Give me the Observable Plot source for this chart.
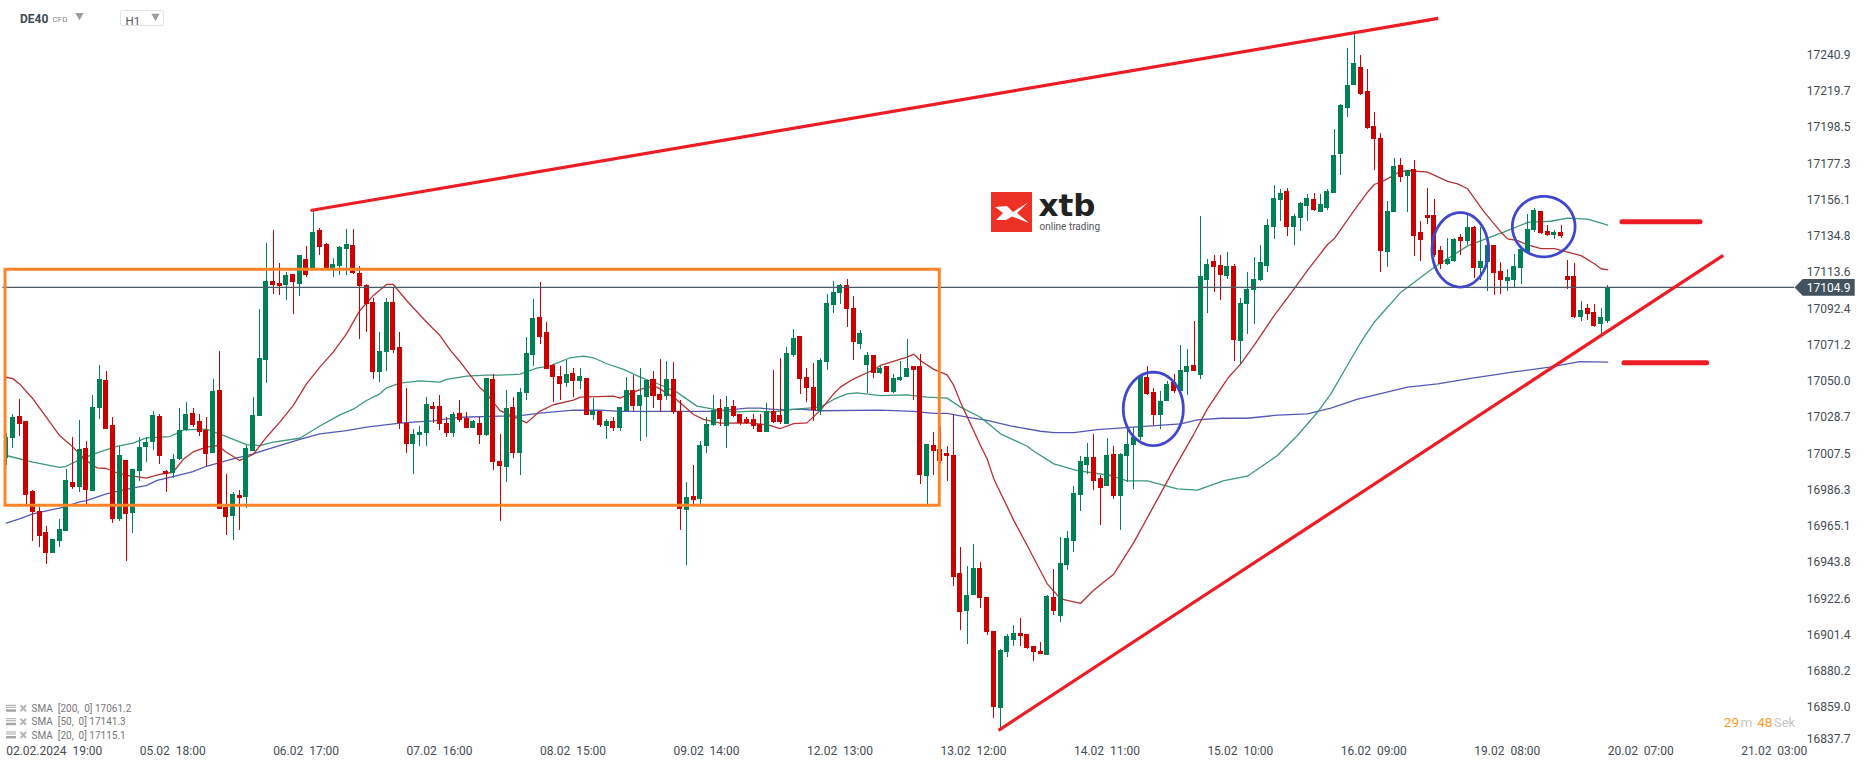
<!DOCTYPE html>
<html><head><meta charset="utf-8">
<script src="https://cdn.jsdelivr.net/npm/d3@7"></script>
<script src="https://cdn.jsdelivr.net/npm/@observablehq/plot@0.6"></script>
<style>html,body{margin:0;padding:0;background:#fff}svg{display:block}</style>
</head><body><div id="chart"></div>
<script>
const opens=[17004.5,17016.4,17029.3,17026.4,16985.4,16973.7,16961.4,16949.1,16956.1,16962,
16990.7,16987.8,17010.6,16985.4,17034,17050.4,17024,16969,17003.6,16972.5,
16997.1,17011.2,17014.1,17029.3,16997.1,16995.9,17004.1,17021.1,17031.1,17026.4,
17021.1,17007.7,17044.5,16976,16970.8,16983.1,16981.9,17008.8,17029.3,17062.1,
17108.3,17107.2,17106,17112.4,17106.6,17121.2,17115.9,17138.2,17130,17115.9,
17117.1,17127.1,17129.4,17113,17106,17096,17055.1,17066.8,17096,17069.7,
17025.2,17012.9,17018.2,17019.4,17035.2,17035.2,17025.2,17019.4,17031.1,17028.1,
17022.3,17025.2,17018.2,17051,17003,16999.5,17034.6,17007.7,17042.8,17065,
17087.3,17078.5,17059.2,17052.8,17048.7,17054.5,17049.8,17051.6,17029.9,17032.3,
17023.5,17026.4,17022.3,17032.3,17044.6,17035.2,17040.5,17051,17042.2,17041,
17051,17032.3,16974.3,16982.5,16980.8,17011.8,17024.1,17034,17023.5,17035.2,
17030.5,17027.6,17027.6,17024.7,17020,17032.3,17029.9,17024.7,17065,17076.2,
17052.2,17046.3,17032.3,17060.9,17094.3,17101.3,17106,17092.6,17071.5,17059.2,
17065,17054.5,17058.6,17043.4,17050.4,17052.2,17058.6,17058.6,16994.2,17012.4,
17010,17007.7,17006.5,16937.4,16915.2,16924.5,16940.3,16923.4,16903.5,16858.4,
16891.2,16898.2,16902.3,16901.7,16894.7,16891.8,16889.4,16923.4,16912.2,16942.1,
16956.1,16983.1,17000.6,17005.3,16993,16988.3,17007.1,16982.5,17005.9,17012.3,
17017,17052.1,17043.4,17029.9,17038.1,17049.2,17043.9,17055.1,17059.2,17053.4,
17108.9,17120,17117.7,17111.3,17117.1,17073.2,17094.9,17103.1,17108.9,17117.1,
17139.9,17155.7,17161,17139.9,17145.2,17152.2,17156.3,17148.7,17151,17159.8,
17182.7,17209.6,17223.1,17233.6,17219.5,17199,17192,17125.3,17148.7,17176.2,
17169.8,17173.9,17137,17147,17147,17126.5,17118.3,17120,17134.1,17131.7,
17139.9,17115.9,17119.5,17129.4,17114.2,17108.3,17108.9,17115.9,17125.3,17138.2,
17149.3,17137.6,17135.2,17137,17111.3,17111.3,17087.3,17092.5,17090.2,17083.2,
17084.9];
const highs=[17019.2,17030.5,17039.1,17026.4,16986,16976.2,16964.9,16957.3,16969,16998.1,
17016.8,17027,17014.7,17041.6,17059.2,17055.6,17028.7,17011.8,17003.6,16998.3,
17017,17016.8,17032.2,17030.5,16997.7,17007.1,17034,17037.5,17034,17030.5,
17028.7,17051,17067.4,16995.4,16984.8,16986,17012.3,17040.4,17091.9,17130.6,
17138.2,17118.9,17113.6,17112.4,17123.7,17128.8,17149.9,17139.3,17130.6,17121.8,
17128.8,17138.8,17138.8,17117.1,17106.6,17098.2,17078.5,17098.4,17104,17078.5,
17045.7,17021.7,17023.5,17040.4,17037.5,17041.6,17028.7,17031.7,17038.7,17031.7,
17027,17028.7,17051.6,17053.9,17018.8,17044.6,17040.5,17045.7,17075.6,17097.8,
17107.8,17084.4,17059.8,17058.6,17062.1,17057.4,17057.4,17051.6,17039.9,17032.3,
17027.6,17028.8,17034.6,17052.2,17053.3,17057.4,17050.4,17055.7,17062.7,17061.5,
17060.9,17038.7,16990.7,17000.7,17014.7,17028.8,17041.6,17039.3,17041,17038.7,
17030.5,17028.8,17030.5,17030.5,17036.9,17056.3,17063.3,17069.7,17080.3,17076.2,
17057.4,17060.4,17063.3,17100.7,17108.4,17106.6,17109.5,17099.6,17079.7,17066.8,
17065,17059.2,17058.6,17053.9,17061.5,17074.4,17058.6,17065.6,17012.9,17020,
17023.5,17011.8,17029.9,16952.6,16941.5,16954.4,16943.8,16923.4,16903.5,16892.9,
16901.7,16907,16911.1,16901.7,16894.7,16897,16924.5,16939.8,16958.5,16962,
16988.3,17005.9,17013.5,17018.8,16994.8,17016.4,17011.7,17007.6,17023.4,17022.9,
17053.3,17058.6,17045.7,17043.9,17049.8,17053.9,17070.9,17068.5,17084.9,17146.4,
17121.2,17123.5,17123.5,17125.3,17118.3,17098.4,17113.6,17122.4,17129.4,17144.6,
17164.5,17162.2,17162.8,17147.5,17154.6,17159.3,17159.8,17159.3,17162.2,17197.3,
17211.9,17244.7,17252.9,17240.6,17232.4,17207.3,17195,17155.2,17180.3,17180.3,
17173.3,17179.2,17143.5,17162.8,17156.3,17128.8,17133.5,17133.5,17135.8,17147,
17140.5,17139.9,17129.4,17129.4,17119.5,17115.4,17124.1,17127,17147.5,17151,
17149.3,17141.1,17138.2,17141.1,17120.6,17118.9,17096.6,17094.9,17094.9,17092.5,
17106];
const lows=[17000.6,17010.8,17017.6,16977.2,16956.3,16952.8,16942.9,16949.1,16952.8,16962,
16986.8,16985,16977.8,16985.4,17027.8,17021.7,16966.9,16968,16944.6,16961,
16991.3,17002.4,17009.4,17001.2,16984.8,16993,17003.6,17020.5,17022.9,17017.6,
17000,17007.7,16974.9,16959.7,16956.7,16962.6,16975.5,17008.8,17029.3,17048.6,
17100.7,17100.1,17097.2,17089,17099.5,17110.7,17115.9,17123.5,17115.3,17110.7,
17111.8,17111.8,17112.4,17074.4,17078.5,17051,17049.2,17055.6,17066.2,17021.7,
17007.7,16995.4,17011.8,17011.8,17025.2,17021.1,17017,17017,17025.8,17022.3,
17022.3,17012.9,17017.6,16997.7,16968,16990.7,17004.8,16994.8,17038.7,17058.6,
17071.5,17056.9,17037.5,17038.7,17046.3,17040.5,17045.1,17029.9,17027,17022.9,
17015.9,17020.6,17020.6,17032.3,17032.3,17014.7,17017.1,17034,17031.7,17038.7,
17030.5,16962.6,16942.1,16977.2,16977.2,17007.7,17023.5,17023.5,17010.6,17028.8,
17024.1,17024.7,17021.7,17020,17020,17025.2,17024.7,17024.7,17063.9,17042.2,
17037.5,17026.4,17029.9,17056.3,17089.6,17094.9,17081.4,17062.1,17068.6,17042.6,
17051.6,17053.9,17043.4,17042.8,17049.8,17052.2,17038.7,16989.5,16977.8,16994.8,
17001.2,16991.3,16929.8,16904.1,16895.9,16924.5,16916.9,16900.9,16852.5,16845.5,
16888.2,16894.7,16894.7,16892.9,16885.9,16890,16889.4,16912.8,16908.7,16939.2,
16949.7,16973.7,16995.4,16986,16965.5,16988.3,16980.7,16962.6,16990.7,16986.6,
17015.3,17041.6,17024,17021.7,17038.1,17042.8,17043.9,17041.6,17055.6,17051,
17089.6,17101.9,17097.2,17109.5,17061.5,17059.2,17077.3,17083.2,17108.3,17113.6,
17132.9,17143.5,17134.7,17129.4,17137.6,17143.5,17149.3,17148.7,17149.9,17159.8,
17170.4,17204.3,17223.1,17217.2,17197.3,17173.3,17113.6,17116.5,17148.7,17166.3,
17148.7,17123,17120,17141.7,17122.2,17115.4,17117.7,17119.5,17123.6,17129.4,
17110.1,17108.9,17102.5,17100.1,17100.7,17102.5,17104.8,17106.6,17124.1,17137,
17135.8,17134.7,17132.9,17133.5,17103.6,17086.7,17084.9,17085.5,17081.4,17077.3,
17083.7];
const closes=[17017.2,17028.7,17024.6,16983.3,16973.1,16959.1,16949.1,16957.3,16963.2,16991.9,
16987.8,17010,16986,17034.6,17051,17021.7,16969,17006.5,16972,16998.3,
17011.2,17014.1,17029.9,17005.9,16995.4,17004.1,17021.1,17030.5,17024,17019.9,
17007.1,17043.9,16974.9,16970.2,16983.7,16981.3,17010.6,17029.9,17063.3,17108.3,
17106,17105.4,17111.8,17107.7,17123.5,17111.8,17137,17128.2,17115.9,17118.3,
17128.2,17130,17113,17105.2,17094.9,17055.1,17067.4,17096,17067.9,17025.2,
17012.9,17018.8,17019.9,17036.3,17033.4,17024.6,17019.4,17030.5,17027,17022.3,
17026.4,17018.2,17051.6,17002.4,17000.1,17034,17007.7,17043.4,17066.2,17086.7,
17075.6,17056.9,17052.2,17048.1,17053.9,17049.8,17052.8,17029.9,17032.3,17024.1,
17026.4,17022.3,17034.6,17044.6,17035.2,17041.6,17050.4,17041,17038.7,17051,
17031.7,16974.9,16981.9,16980.2,17012.4,17024.7,17032.9,17027.6,17034.6,17029.3,
17025.2,17025.2,17023.5,17020,17032.3,17025.8,17025.8,17066.2,17075,17051,
17045.7,17032.9,17062.1,17095.5,17101.9,17106,17092,17072.7,17077.9,17065,
17054.5,17057.4,17043.4,17051.6,17052.2,17057.4,17056.3,16994.8,17012.9,17008.9,
17003,17005.9,16935,16914.6,16924.5,16940.3,16922.8,16902.9,16859,16892.3,
16900.5,16902.3,16900.5,16893.5,16891.2,16890,16923.9,16915.2,16943.3,16957.9,
16984.2,17003,17005.3,16991.3,16987.2,17006.5,16982.5,17007.1,17012.9,17017,
17052.7,17042.2,17029.9,17038.1,17048,17043.9,17056.2,17058.6,17055.6,17111.3,
17118.3,17116.5,17111.8,17117.1,17073.8,17095.5,17103.6,17109.5,17119.5,17141.1,
17156.9,17159.8,17139.9,17146.4,17154,17156.9,17149.9,17153.4,17161,17182.1,
17211.3,17223.1,17235.9,17217.8,17197.9,17191.4,17125.9,17149.3,17175.6,17169.2,
17173.3,17134.7,17132.3,17145.2,17123.4,17118.3,17121.2,17132.9,17131.7,17139.9,
17115.9,17120,17129.4,17113,17108.9,17110.7,17117.1,17127,17138.8,17149.9,
17136.4,17135.2,17137,17134.7,17108.9,17087.3,17091.4,17089,17082,17087.3,
17104.9];

const sma20Bars=[0,1,2,4,6,8,10,12,13.6,15,16.4,18,19,21,23,25,26.6,28,30,31.6,33,35,37,39,41,43,45,47,49,51,53,55,57,58,60,63,65,66.6,68,71,72,74,76,78,80,82,85,86,91,92,94,96,97.5,100,103,104.5,107,111,114,116,118,120,122,124,125,127,130,131,135,136,137,139,141,142,143,144.5,146,147,148,151,153,156,158,161,163,166,169,172,175,178,180,183,185,187,190,193,195,198,199,202,204,205,206.5,208.7,210,213,216,217.5,219,221.5,224,225,226.5,228,230,232,234,236,238,239,240];
const sma20Vals=[17052.3,17051.5,17048.4,17039.7,17028.9,17018.2,17011.4,17003.6,16999.3,16998.9,16996.7,16994.8,16994.4,16993.2,16995.4,16996.7,17004.5,17008.6,17011.4,17012.3,17008.4,17003.6,17007.1,17017.2,17026,17035.7,17048.4,17058.2,17067,17077.7,17091.4,17100.1,17106.6,17106.6,17097.2,17084.5,17076.7,17067.9,17061.5,17046.1,17042.6,17032.8,17029.3,17025.6,17032.5,17036.2,17038.9,17040.7,17041.2,17040.1,17043.6,17046.5,17046.5,17040.7,17030.5,17027.6,17025.4,17025.6,17024.5,17022.3,17025.2,17025.6,17032.9,17042.6,17046.5,17051.4,17056.7,17059.2,17064.1,17065.8,17062.1,17056.9,17053.7,17047.5,17037.7,17025,17012.4,17004.5,16992.8,16968.4,16953.8,16931.4,16922.6,16920,16927.8,16937.2,16955.8,16977.2,16998.7,17019.2,17033.8,17051.4,17060.1,17070.9,17088.4,17104,17114.8,17130,17133.3,17149.9,17160.6,17165.1,17167.4,17172.3,17173.3,17172.3,17166.9,17165.5,17162.6,17148.9,17137.2,17133.3,17132.3,17129.8,17127.6,17127.6,17125.5,17123.5,17118.7,17115.8,17115.1];

const sma50Bars=[0,4,8,9,11,13.6,16.6,19,21,24.6,26.6,30,33,36,38,40,44,47,50,52,54,56,57,59,62,65,66,69,72,74,77,79.5,81.5,84.5,86.5,88,90,92.5,95,98,100.5,103.5,106,109,112,115,117,122,124,126,127.5,131,135,138,141,143,146,149,153,154,157,160.5,165.5,168,171,175.5,178.5,182.5,186,190.5,193.5,196.5,198.5,201.4,203,205,209,210,214,219,222,224.4,228,231.4,234,237,240];
const sma50Vals=[17006.5,17002.6,16999.5,17000.2,17004.1,17008,17011.8,17013.7,17016.8,17017.6,17021.5,17021.9,17017.6,17012.9,17012.3,17014.3,17016.6,17023.8,17030.3,17033.6,17038.7,17042.6,17046.1,17048.8,17050.2,17049.4,17051,17052.9,17053.5,17053.5,17054.1,17057.6,17059,17063.7,17064.7,17063.7,17060.2,17056.9,17052.4,17047.9,17043.6,17035.4,17033.6,17031.9,17032.5,17031.9,17033.2,17034.8,17039.3,17042.6,17043.2,17041.6,17042,17040.7,17040.1,17034.8,17028.9,17019.2,17011.9,17009,17001.6,16997.7,16994.8,16991.6,16991.6,16987,16986.2,16991.8,16994.4,17006.5,17018.2,17031.8,17042.6,17062.1,17072.8,17084.5,17102.1,17105,17116.7,17129.2,17133.7,17137.2,17142.9,17143.6,17145.4,17144.8,17141.3];

const sma200Bars=[0,2,4,8.5,11,12,15,19,21,22.6,25,28,30,34,37,39,44,47,51,54,59,61,64,68,74,76.5,80,85,89,92,106,111,113,116,119,122,131,136,139,141,144,146,147,150.5,155,157,160,163.5,170,176,178.5,182,186,190.5,195,198.5,202.4,210,214.5,219,225.7,231.3,235.8,240];
const sma200Vals=[16966.9,16969.4,16972.3,16976.2,16979.4,16980.1,16984,16987.6,16988.9,16991.9,16994.2,16997.1,17000.2,17004.5,17007.5,17010,17016,17019.2,17021.1,17023.1,17025.4,17026,17026.8,17028.9,17029.5,17029.5,17031.3,17033,17033,17032.3,17032.3,17034.2,17034.2,17033.2,17033.6,17032.7,17033,17032.3,17031.1,17031.1,17028.9,17027.6,17027,17023.8,17020.7,17019.9,17019.9,17021.7,17023.4,17025,17027.4,17028.3,17028.3,17030.1,17030.9,17034.2,17039.3,17046.5,17048.4,17051.4,17055.3,17058.2,17061.5,17061.2];

const priceTicks=[17240.9,17219.7,17198.5,17177.3,17156.1,17134.8,17113.6,17092.4,17071.2,17050.0,17028.7,17007.5,16986.3,16965.1,16943.8,16922.6,16901.4,16880.2,16859.0];
const bottomPriceTick=[16837.7];
const timeTickBars=[0,20,40,60,80,100,120,140,160,180,200,220,240,260];
const timeTickLabels=["02.02.2024  19:00","05.02  18:00","06.02  17:00","07.02  16:00","08.02  15:00","09.02  14:00","12.02  13:00","13.02  12:00","14.02  11:00","15.02  10:00","16.02  09:00","19.02  08:00","20.02  07:00","21.02  03:00"].map(s=>s.replace(/ /g,"\u00a0"));
const lastPrice=17104.9;

const rangeBox=[{x1:-0.1,x2:139.9,y1:16977.1,y2:17115.2}];
const trendLines=[
 {x1:45.6,y1:17149.9,x2:214.6,y2:17262.3},
 {x1:148.7,y1:16845.6,x2:257.3,y2:17123.6}
];
const levelBars=[
 {x1:242.2,x2:253.9,y:17143.3},
 {x1:242.5,x2:254.9,y:17060.8}
];
const circles=[
 {cx:171.9,cy:17033.8,rx:4.5,ry:21.5},
 {cx:217.9,cy:17126.9,rx:4.24,ry:21.8},
 {cx:230.4,cy:17140.5,rx:4.7,ry:17.7}
];
const legendRows=["SMA\u00a0\u00a0[200,\u00a0\u00a00]\u00a017061.2","SMA\u00a0\u00a0[50,\u00a0\u00a00]\u00a017141.3","SMA\u00a0\u00a0[20,\u00a0\u00a00]\u00a017115.1"];

const RED="#cc0000",GREEN="#008055",INK="#454c52";
const candles=opens.map((o,i)=>({i,o,h:highs[i],l:lows[i],c:closes[i],up:closes[i]>=o}));
const toLine=(bars,vals)=>bars.map((b,k)=>({b,v:vals[k]}));
const ellipses=circles.flatMap((c,k)=>d3.range(0,361,5).map(a=>({k,b:c.cx+c.rx*Math.cos(a*Math.PI/180),v:c.cy+c.ry*Math.sin(a*Math.PI/180)})));
const tagPoly=[{b:268,v:lastPrice},{b:269.2,v:lastPrice+4.9},{b:277,v:lastPrice+4.9},{b:277,v:lastPrice-4.9},{b:269.2,v:lastPrice-4.9},{b:268,v:lastPrice}];

function chromeText(t,dx,dy,o={}){
  return Plot.text([t],{text:d=>d,frameAnchor:"top-left",textAnchor:"start",lineAnchor:"middle",dx,dy,fontSize:12,fill:INK,...o});
}
function tri(dx,dy){
  return Plot.dot([0],{frameAnchor:"top-left",dx,dy,symbol:"triangle",rotate:180,r:3.1,fill:"#9a9ea2",stroke:"none"});
}
function chromeShapes(){
  const g=d3.create("svg:g");
  g.append("rect").attr("x",120.5).attr("y",10.5).attr("width",43).attr("height",15).attr("rx",1.5).attr("fill","none").attr("stroke","#e2e4e6");
  g.append("rect").attr("x",991).attr("y",192).attr("width",41).attr("height",40).attr("fill","#ed3124");
  g.append("path").attr("d","M995,207 L1007,206 L1013,212 L1028,202.5 L1017,213 L1029,223 L1012,216.5 L1006,220 L996,220 L1003,213 Z").attr("fill","#fff");
  [708.3,721.7,735].forEach(y=>{
    [-3,-1,1.5].forEach((d,j)=>g.append("rect").attr("x",6).attr("y",y+d-0.5).attr("width",10).attr("height",j==2?2.5:1).attr("fill","#a3a7aa"));
    g.append("path").attr("d",`M20.5,${y-3} L26,${y+3} M26,${y-3} L20.5,${y+3}`).attr("stroke","#b5b8ba").attr("stroke-width",2).attr("fill","none");
  });
  return g.node();
}

const chart=Plot.plot({
  width:1866,height:767,marginTop:0,marginLeft:0,marginRight:59,marginBottom:10,
  style:{fontFamily:"Roboto",background:"#fff",overflow:"visible"},
  x:{type:"linear",domain:[-0.854,269.93],range:[0,1807]},
  y:{type:"linear",domain:[17272.8,16829.75],range:[0,757]},
  marks:[
    Plot.line(toLine(sma200Bars,sma200Vals),{x:"b",y:"v",stroke:"#5459b8",strokeWidth:1.3}),
    Plot.line(toLine(sma50Bars,sma50Vals),{x:"b",y:"v",stroke:"#3a9a7a",strokeWidth:1.3}),
    Plot.line(toLine(sma20Bars,sma20Vals),{x:"b",y:"v",stroke:"#b83033",strokeWidth:1.3}),
    Plot.ruleX(candles,{x:"i",y1:"l",y2:"h",stroke:d=>d.up?GREEN:RED,strokeWidth:1,shapeRendering:"crispEdges"}),
    Plot.rect(candles,{x1:d=>Math.max(-0.05,d.i-0.375),x2:d=>d.i+0.375,y1:d=>Math.min(d.o,d.c),y2:d=>Math.max(d.o,d.c),fill:d=>d.up?GREEN:RED,inset:0,shapeRendering:"crispEdges"}),
    Plot.ruleY([lastPrice],{x1:-0.5,x2:268,stroke:"#4a5a66",strokeWidth:1.3}),
    Plot.rect(rangeBox,{x1:"x1",x2:"x2",y1:"y1",y2:"y2",fill:"none",stroke:"#ff8427",strokeWidth:3}),
    Plot.link(trendLines,{x1:"x1",y1:"y1",x2:"x2",y2:"y2",stroke:"#ee1c25",strokeWidth:3.2}),
    Plot.ruleY(levelBars,{x1:"x1",x2:"x2",y:"y",stroke:"#ee1c25",strokeWidth:5,strokeLinecap:"round"}),
    Plot.line(ellipses,{x:"b",y:"v",z:"k",stroke:"#3f48cc",strokeWidth:2.8}),
    Plot.line(tagPoly,{x:"b",y:"v",fill:"#42525e",stroke:"none"}),
    Plot.axisY({anchor:"right",ticks:priceTicks,tickSize:0,tickPadding:0,textAnchor:"start",dx:-0.7,tickFormat:d=>d.toFixed(1),fontSize:12,fill:INK,label:null}),
    Plot.axisY({anchor:"right",ticks:bottomPriceTick,tickSize:0,tickPadding:0,textAnchor:"start",dx:-0.7,tickFormat:d=>d.toFixed(1),dy:-4.5,fontSize:12,fill:INK,label:null}),
    Plot.text([lastPrice],{x:269.93,y:d=>d,text:d=>d.toFixed(1),textAnchor:"start",dx:-0.7,dy:0.5,fontSize:12,fill:"#fff"}),
    Plot.axisX({anchor:"bottom",ticks:timeTickBars,tickSize:0,tickPadding:0,textAnchor:"start",lineAnchor:"top",dx:0,dy:-11,tickFormat:d=>timeTickLabels[timeTickBars.indexOf(d)],fontSize:12,fill:INK,label:null}),
    chromeShapes,
    chromeText("DE40",19.5,19,{fontWeight:"bold",fontSize:12,fill:"#3d4a54"}),
    chromeText("CFD",52,19,{fontSize:8,fill:"#7f8489"}),
    tri(79,15),
    chromeText("H1",125,20.5,{fontSize:11.5,fill:"#555"}),
    tri(155,15.7),
    chromeText("xtb",1038,206,{fontFamily:"DejaVu Sans",fontWeight:"bold",fontSize:31,fill:"#222",letterSpacing:1}),
    chromeText("online trading",1039,226.7,{fontSize:10,fill:"#555"}),
    ...legendRows.map((t,k)=>chromeText(t,31,708.3+13.35*k,{fontSize:10,fill:"#777"})),
    chromeText("29",1723.3,722.3,{fontSize:13.5,fill:"#ff9a1f"}),
    chromeText("m",1740,722.3,{fontSize:13.5,fill:"#c4c4c4"}),
    chromeText("48",1756.7,722.3,{fontSize:13.5,fill:"#ff9a1f"}),
    chromeText("Sek",1773.5,722.3,{fontSize:13,fill:"#c4c4c4"})
  ]
});
document.getElementById("chart").appendChild(chart);
</script></body></html>
